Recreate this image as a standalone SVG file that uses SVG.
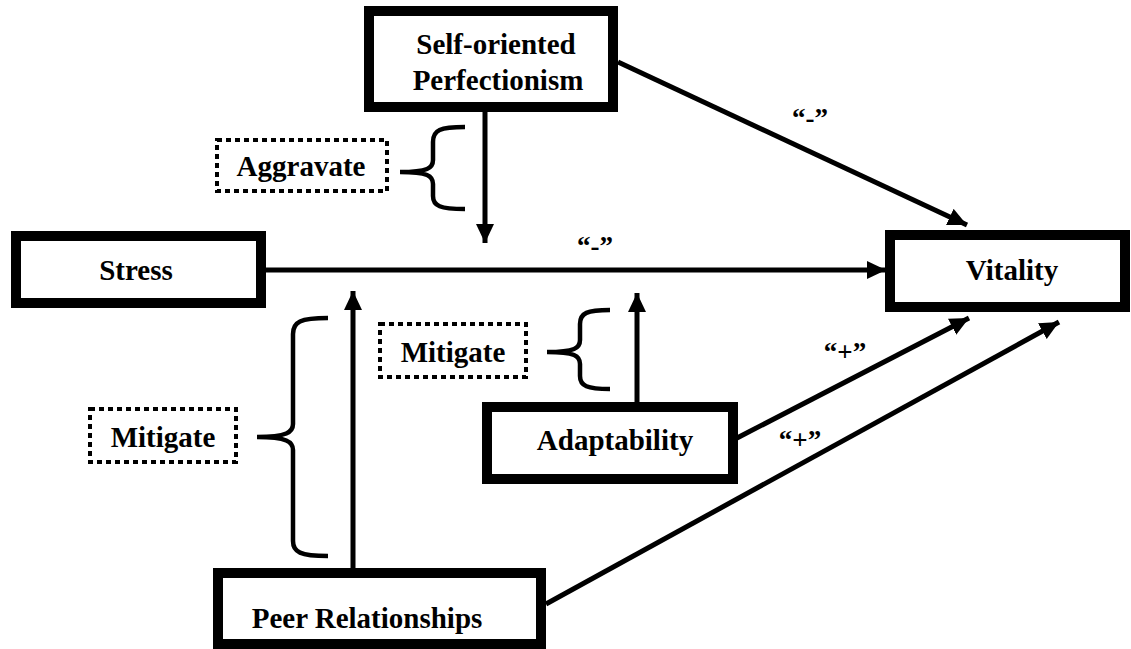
<svg xmlns="http://www.w3.org/2000/svg" width="1131" height="649" viewBox="0 0 1131 649">
<defs>
<style>
.box{fill:#fff;stroke:#000;stroke-width:10}
.dot{fill:#fff;stroke:#000;stroke-width:4;stroke-dasharray:5 4}
.t{font-family:"Liberation Serif","Times New Roman",serif;font-weight:bold;font-size:29px;text-anchor:middle;fill:#000}
.lbl{font-family:"Liberation Serif","Times New Roman",serif;font-weight:bold;font-size:27px;text-anchor:middle;fill:#000}
.ln{stroke:#000;stroke-width:5;fill:none}
.br{stroke:#000;stroke-width:4.5;fill:none;stroke-linecap:butt}
</style>
<marker id="ah" markerUnits="userSpaceOnUse" markerWidth="20" markerHeight="18" refX="19" refY="9" orient="auto">
<path d="M0,0 L19,9 L0,18 Z" fill="#000"/>
</marker>
</defs>
<rect width="1131" height="649" fill="#fff"/>

<g id="connectors">
<line class="ln" x1="485" y1="110" x2="485" y2="243" marker-end="url(#ah)"/>
<line class="ln" x1="265" y1="270" x2="886" y2="270" marker-end="url(#ah)"/>
<line class="ln" x1="618" y1="62" x2="967" y2="225" marker-end="url(#ah)"/>
<line class="ln" x1="637" y1="404" x2="637" y2="293" marker-end="url(#ah)"/>
<line class="ln" x1="353" y1="569" x2="353" y2="291" marker-end="url(#ah)"/>
<line class="ln" x1="737" y1="438" x2="969" y2="318" marker-end="url(#ah)"/>
<line class="ln" x1="546" y1="604" x2="1059" y2="322" marker-end="url(#ah)"/>
<text class="lbl" x="810" y="127">“-”</text>
<text class="lbl" x="595" y="255">“-”</text>
<text class="lbl" x="845" y="361">“+”</text>
<text class="lbl" x="800" y="449">“+”</text>
</g>

<g id="brace-aggravate">
<path class="br" d="M465,127 C440,127 433,130 433,142 V160 C433,168 428,172 400,172 C428,172 433,176 433,184 V196 C433,206 440,209 465,209"/>
</g>
<g id="brace-mitigate-upper">
<path class="br" d="M610,310 C587,310 580,313 580,324 V340 C580,348 575,352 547,352 C575,352 580,356 580,364 V376 C580,386 587,389 610,389"/>
</g>
<g id="brace-mitigate-lower">
<path class="br" d="M328,318 C300,318 293,322 293,334 V424 C293,432 287,437 257,437 C287,437 293,442 293,450 V541 C293,552 300,556 328,556"/>
</g>

<g id="node-sop">
<rect class="box" x="369" y="11" width="244" height="96"/>
<text class="t" x="496" y="54">Self-oriented</text>
<text class="t" x="498" y="90">Perfectionism</text>
</g>
<g id="node-aggravate">
<rect class="dot" x="217" y="140" width="170" height="51"/>
<text class="t" x="301" y="176">Aggravate</text>
</g>
<g id="node-stress">
<rect class="box" x="16" y="236" width="245" height="67"/>
<text class="t" x="136" y="280">Stress</text>
</g>
<g id="node-vitality">
<rect class="box" x="890" y="235" width="235" height="72"/>
<text class="t" x="1012" y="280">Vitality</text>
</g>
<g id="node-mitigate-upper">
<rect class="dot" x="380" y="324" width="146" height="53"/>
<text class="t" x="453" y="362">Mitigate</text>
</g>
<g id="node-mitigate-lower">
<rect class="dot" x="90" y="409" width="146" height="53"/>
<text class="t" x="163" y="447">Mitigate</text>
</g>
<g id="node-adaptability">
<rect class="box" x="487" y="407" width="246" height="72"/>
<text class="t" x="615" y="450">Adaptability</text>
</g>
<g id="node-peer">
<rect class="box" x="218" y="573" width="323" height="71"/>
<text class="t" x="367" y="628">Peer Relationships</text>
</g>
</svg>
